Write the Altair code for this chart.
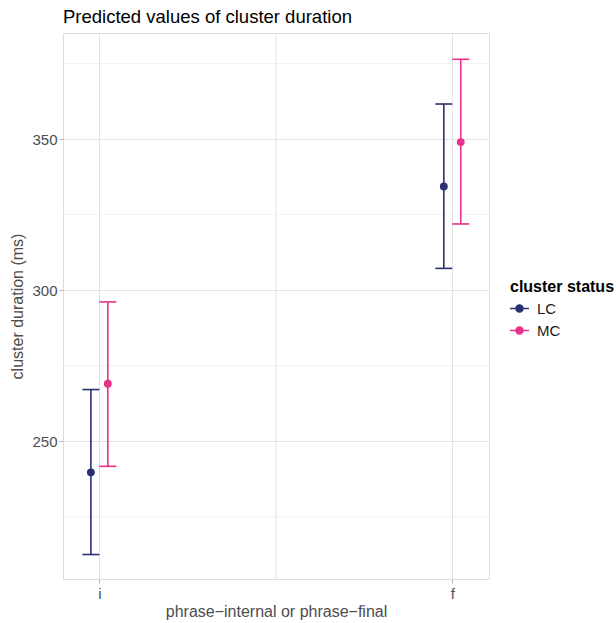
import altair as alt
import pandas as pd

# ---- data ----
place = ["i", "i", "f", "f"]
place_pos = [1, 1, 2, 2]
status = ["LC", "MC", "LC", "MC"]
predicted = [239.7, 269.0, 334.3, 349.0]
conf_low = [212.5, 241.7, 307.2, 321.9]
conf_high = [267.1, 296.1, 361.6, 376.4]

x_ticks = [1, 2]
x_tick_labels = ["i", "f"]
x_minor = [1.5]
y_ticks = [250, 300, 350]
y_minor = [225, 275, 325, 375]

df = pd.DataFrame({
    "place": place,
    "pos": place_pos,
    "status": status,
    "pred": predicted,
    "low": conf_low,
    "high": conf_high,
})

FONT = "Liberation Sans"
GRID = "#e3e3e3"
GRID_MINOR = "#ececec"
BORDER = "#b3b3b3"
TXT = "#4d4d4d"

x_scale = alt.Scale(domain=[0.897, 2.104], nice=False, zero=False)
y_scale = alt.Scale(domain=[204.4, 385.1], nice=False, zero=False)
color_scale = alt.Scale(domain=["LC", "MC"], range=["#2b3170", "#e8318a"])

label_expr = " : ".join(
    [f"datum.value == {v} ? '{l}'" for v, l in zip(x_ticks[:-1], x_tick_labels[:-1])]
    + [f"'{x_tick_labels[-1]}'"]
)

x_axis = alt.Axis(
    values=x_ticks, labelExpr=label_expr, title="phrase−internal or phrase−final",
    grid=True, gridColor=GRID, gridWidth=1, domain=False,
    ticks=True, tickColor=BORDER, tickSize=4, labelPadding=3,
    labelFont=FONT, labelFontSize=15, labelColor=TXT,
    titleFont=FONT, titleFontSize=16, titleColor=TXT, titleFontWeight="normal",
    titlePadding=2,
)
y_axis = alt.Axis(
    values=y_ticks, title="cluster duration (ms)",
    grid=True, gridColor=GRID, gridWidth=1, domain=False,
    ticks=True, tickColor=BORDER, tickSize=4, labelPadding=2,
    labelFont=FONT, labelFontSize=15, labelColor=TXT,
    titleFont=FONT, titleFontSize=16, titleColor=TXT, titleFontWeight="normal",
    titlePadding=6,
)

legend_symbol = (
    "M-1,-0.08 L-0.45,-0.08 L-0.45,0.08 L-1,0.08 Z "
    "M0.45,-0.08 L1,-0.08 L1,0.08 L0.45,0.08 Z "
    "M0.45,0 A0.45,0.45 0 1,1 -0.45,0 A0.45,0.45 0 1,1 0.45,0 Z"
)
legend = alt.Legend(
    title="cluster status", orient="none", legendX=447, legendY=246,
    titleFont=FONT, titleFontSize=16, titleFontWeight="bold", titleColor="#000000",
    titlePadding=4,
    labelFont=FONT, labelFontSize=15, labelColor="#1a1a1a", labelOffset=8,
    symbolType=legend_symbol, symbolSize=361, symbolStrokeWidth=0, symbolOpacity=1,
    rowPadding=4,
)

grid_y = alt.Chart(pd.DataFrame({"v": y_minor})).mark_rule(
    color=GRID_MINOR, strokeWidth=0.7
).encode(y=alt.Y("v:Q", scale=y_scale, axis=y_axis))

grid_x = alt.Chart(pd.DataFrame({"v": x_minor})).mark_rule(
    color=GRID, strokeWidth=1
).encode(x=alt.X("v:Q", scale=x_scale, axis=x_axis))

base = alt.Chart(df).transform_calculate(
    xd="datum.pos + (datum.status == 'LC' ? -0.024 : 0.024)"
)

X = alt.X("xd:Q", scale=x_scale, axis=x_axis)
C = alt.Color("status:N", scale=color_scale, legend=legend)

bars = base.mark_rule(strokeWidth=1.6, opacity=1).encode(
    x=X, y=alt.Y("low:Q", scale=y_scale, axis=y_axis), y2="high:Q", color=C
)
caps_low = base.mark_tick(orient="horizontal", size=17, thickness=1.6, opacity=1).encode(
    x=X, y=alt.Y("low:Q", scale=y_scale, axis=y_axis), color=C
)
caps_high = base.mark_tick(orient="horizontal", size=17, thickness=1.6, opacity=1).encode(
    x=X, y=alt.Y("high:Q", scale=y_scale, axis=y_axis), color=C
)
points = base.mark_point(filled=True, size=62, opacity=1).encode(
    x=X, y=alt.Y("pred:Q", scale=y_scale, axis=y_axis), color=C
)

chart = alt.layer(grid_y, grid_x, bars, caps_low, caps_high, points).properties(
    width=426, height=546,
    title=alt.TitleParams(
        "Predicted values of cluster duration", anchor="start", frame="group",
        font=FONT, fontSize=18.5, fontWeight="normal", color="#000000", offset=6,
    ),
    autosize=alt.AutoSizeParams(type="none"),
    padding={"left": 63, "top": 33, "right": 127, "bottom": 44},
).configure_view(stroke=BORDER, strokeWidth=1).configure(background="white")

chart.save("out.html", embed_options={"renderer": "svg", "actions": False})
